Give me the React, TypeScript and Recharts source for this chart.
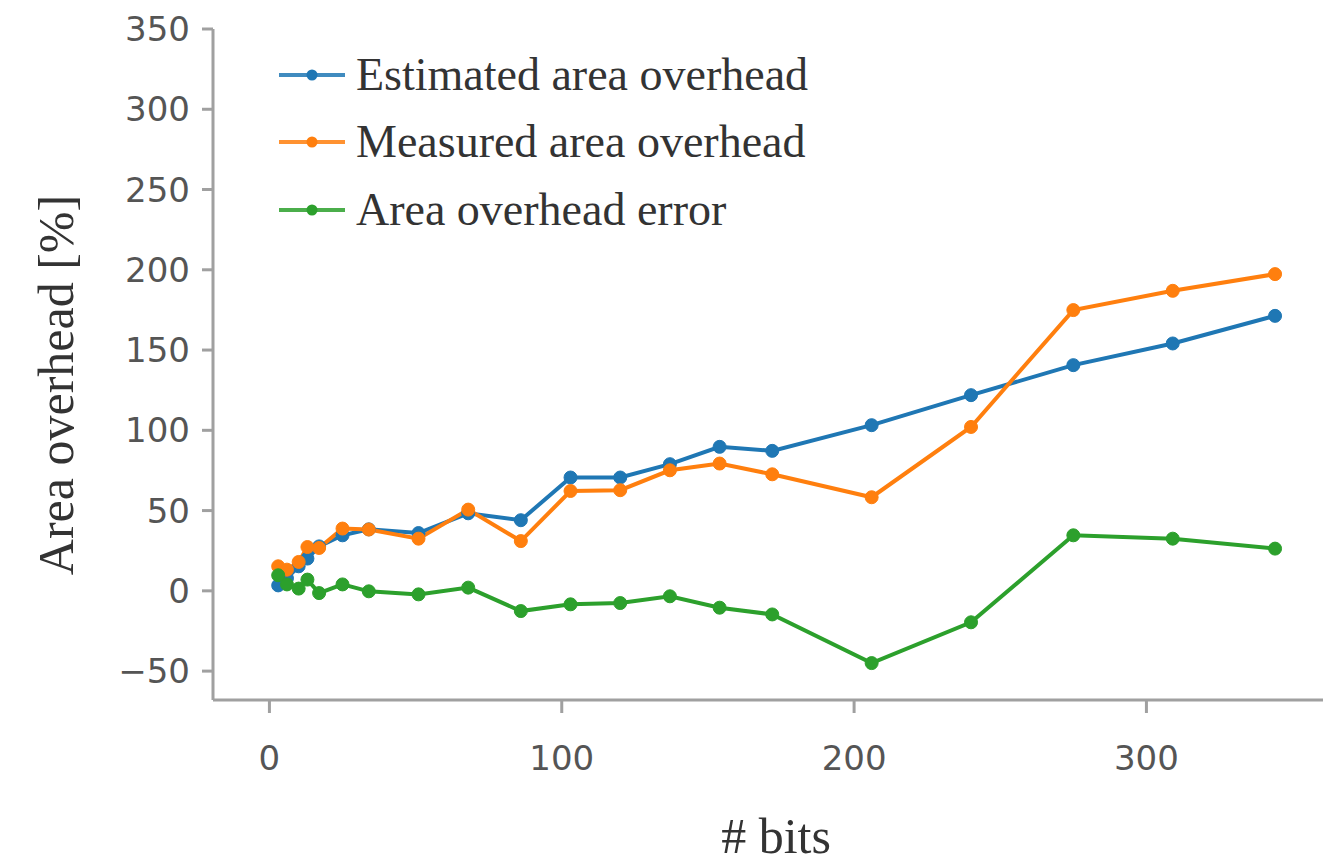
import { LineChart, Line, XAxis, YAxis } from "recharts";

const bits = [3, 6, 10, 13, 17, 25, 34, 51, 68, 86, 103, 120, 137, 154, 172, 206, 240, 275, 309, 344];
const estimated = [3.4, 7.8, 15.3, 20.1, 27.7, 34.6, 38.3, 36.0, 48.3, 44.0, 70.6, 70.6, 78.9, 89.7, 87.2, 103.2, 121.9, 140.6, 154.1, 171.3];
const measured = [15.3, 13.2, 18.0, 27.3, 26.7, 38.8, 38.2, 32.5, 50.6, 31.0, 62.2, 62.7, 75.1, 79.3, 72.6, 58.3, 102.1, 174.9, 186.9, 197.3];
const areaError = [9.7, 4.0, 1.4, 7.0, -1.4, 4.0, -0.3, -2.2, 2.0, -12.6, -8.4, -7.6, -3.4, -10.5, -14.7, -45.0, -19.6, 34.6, 32.5, 26.3];

const xTicks = [0, 100, 200, 300];
const yTicks = [-50, 0, 50, 100, 150, 200, 250, 300, 350];

const SERIES = [
  { key: "estimated", name: "Estimated area overhead", color: "#1f77b4" },
  { key: "measured", name: "Measured area overhead", color: "#ff7f0e" },
  { key: "error", name: "Area overhead error", color: "#2ca02c" },
];

const data = bits.map((b, i) => ({
  bits: b,
  estimated: estimated[i],
  measured: measured[i],
  error: areaError[i],
}));

const axisColor = "#a0a0a0";
const tickText = { fontFamily: "DejaVu Sans", fontSize: 34, fill: "#555" };
const titleFont = { fontFamily: "Liberation Serif", fill: "#333" };
const fmtMinus = (v: number) => String(v).replace("-", "\u2212");

// legend sits inside the plot, top-left
function LegendBox() {
  return (
    <div
      style={{
        position: "absolute",
        left: 276,
        top: 41,
        fontFamily: "Liberation Serif",
        fontSize: 46,
        color: "#333",
      }}
    >
      {SERIES.map((s) => (
        <div key={s.key} style={{ display: "flex", alignItems: "center", height: 67.5 }}>
          <svg width={72} height={20} style={{ marginRight: 8 }}>
            <line x1={3} y1={10} x2={69} y2={10} stroke={s.color} strokeWidth={4} opacity={0.85} />
            <circle cx={36} cy={10} r={5.5} fill={s.color} />
          </svg>
          <span style={{ lineHeight: 1 }}>{s.name}</span>
        </div>
      ))}
    </div>
  );
}

const YTitle = () => (
  <text
    x={56}
    y={385}
    transform="rotate(-90 56 385)"
    textAnchor="middle"
    dominantBaseline="central"
    fontSize={50}
    {...titleFont}
  >
    Area overhead [%]
  </text>
);

export default function App() {
  return (
    <div style={{ position: "absolute", left: 0, top: 0, width: 1323, height: 865, background: "#fff" }}>
      <LineChart width={1323} height={865} data={data} margin={{ top: 29, right: 0, bottom: 0, left: 0 }}>
        <XAxis
          dataKey="bits"
          type="number"
          domain={[-19.3, 360.4]}
          ticks={xTicks}
          allowDataOverflow
          height={165}
          stroke={axisColor}
          strokeWidth={3}
          tickSize={13}
          tickMargin={33}
          tick={tickText}
          label={{
            value: "# bits",
            position: "insideBottom",
            offset: 12,
            dx: 8,
            style: { ...titleFont, fontSize: 50 },
          }}
        />
        <YAxis
          type="number"
          domain={[-68, 350]}
          ticks={yTicks}
          allowDataOverflow
          width={213}
          stroke={axisColor}
          strokeWidth={3}
          tickSize={11}
          tickMargin={12}
          tick={tickText}
          tickFormatter={fmtMinus}
          label={<YTitle />}
        />
        {SERIES.map((s) => (
          <Line
            key={s.key}
            dataKey={s.key}
            name={s.name}
            stroke={s.color}
            strokeWidth={4}
            dot={{ r: 6.5, fill: s.color, stroke: s.color, strokeWidth: 1 }}
            isAnimationActive={false}
          />
        ))}
      </LineChart>
      <LegendBox />
    </div>
  );
}
